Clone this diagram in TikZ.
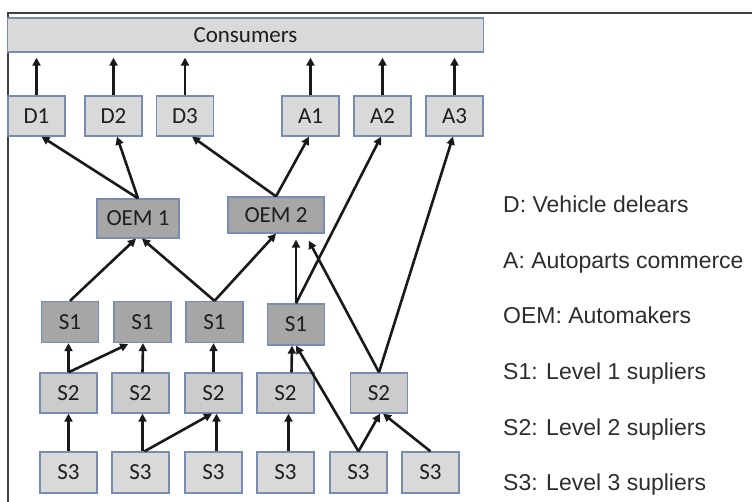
\documentclass[tikz,border=0pt]{standalone}
\usepackage{fontspec}
\usetikzlibrary{arrows.meta}
\newfontfamily\boxfont{Carlito}
\newfontfamily\legendfont{Liberation Sans}
\definecolor{boxedge}{RGB}{120,140,178}
\definecolor{lightfill}{RGB}{217,217,217}
\definecolor{midfill}{RGB}{204,204,204}
\definecolor{darkfill}{RGB}{166,166,166}
\definecolor{inktext}{RGB}{30,30,30}
\definecolor{legendtext}{RGB}{45,45,45}
\tikzset{
  chain box/.style={
    rectangle, draw=boxedge, line width=1.3pt, fill=lightfill,
    text=inktext, minimum width=57pt, minimum height=40pt,
    inner sep=0pt, font=\boxfont\fontsize{23}{27}\selectfont
  },
  maker box/.style={chain box, fill=darkfill},
  tier2 box/.style={chain box, fill=midfill},
  flow arrow/.style={-{Triangle[length=8pt,width=8pt]}, line width=2.6pt, black!90},
  legend entry/.style={anchor=base west, inner sep=0pt, text=legendtext,
    font=\legendfont\fontsize{23}{27}\selectfont}
}

\begin{document}
\begin{tikzpicture}[x=1pt, y=-1pt]
  \useasboundingbox (0,0) rectangle (752,502);
  % frame, only top and left edges show
  \draw[line width=1.6pt, black!75] (752,13) -- (8,13) -- (8,502);

  \node[chain box, minimum width=476pt, minimum height=34pt] (consumers) at (245.5,35) {Consumers};

  % dealers and autoparts shops
  \node[chain box] (D1) at (36.5,116) {D1};
  \node[chain box] (D2) at (113.5,116) {D2};
  \node[chain box] (D3) at (185,116) {D3};
  \node[chain box] (A1) at (310.5,116) {A1};
  \node[chain box] (A2) at (382.5,116) {A2};
  \node[chain box] (A3) at (454.5,116) {A3};

  % automakers
  \node[maker box, minimum width=82pt, minimum height=39pt] (OEM1) at (138,218.5) {OEM 1};
  \node[maker box, minimum width=96pt, minimum height=36pt] (OEM2) at (276,215) {OEM 2};

  % supplier tiers
  \node[maker box, minimum height=41pt] (S1a) at (70,322) {S1};
  \node[maker box, minimum height=41pt] (S1b) at (142.5,322) {S1};
  \node[maker box, minimum height=41pt] (S1c) at (214.5,322) {S1};
  \node[maker box, minimum height=41pt] (S1d) at (296,324.5) {S1};

  \node[tier2 box] (S2a) at (68.5,393) {S2};
  \node[tier2 box] (S2b) at (140.5,393) {S2};
  \node[tier2 box] (S2c) at (213.5,393) {S2};
  \node[tier2 box] (S2d) at (285.5,393) {S2};
  \node[tier2 box] (S2e) at (379,393) {S2};

  \node[chain box, minimum height=41pt] (S3a) at (68.5,472.5) {S3};
  \node[chain box, minimum height=41pt] (S3b) at (140.5,472.5) {S3};
  \node[chain box, minimum height=41pt] (S3c) at (213.5,472.5) {S3};
  \node[chain box, minimum height=41pt] (S3d) at (285.5,472.5) {S3};
  \node[chain box, minimum height=41pt] (S3e) at (358.5,472.5) {S3};
  \node[chain box, minimum height=41pt] (S3f) at (430.5,472.5) {S3};

  % to consumers
  \foreach \n in {D1,D2,D3,A1,A2,A3}
    \draw[flow arrow, shorten >=5pt] (\n.north) -- (\n.north |- consumers.south);

  % automakers to sellers
  \draw[flow arrow] (OEM1.north) -- ([xshift=5pt]D1.south);
  \draw[flow arrow] (OEM1.north) -- ([xshift=3.5pt]D2.south);
  \draw[flow arrow] (OEM2.north) -- ([xshift=7pt]D3.south);
  \draw[flow arrow] (OEM2.north) -- ([xshift=-1.5pt]A1.south);

  % level 1
  \draw[flow arrow] (S1a.north) -- ([xshift=-2pt]OEM1.south);
  \draw[flow arrow] (S1c.north) -- ([xshift=4pt]OEM1.south);
  \draw[flow arrow] (S1c.north) -- (OEM2.south);
  \draw[flow arrow, shorten >=6pt] (S1d.north) -- (S1d.north |- OEM2.south);
  \draw[flow arrow] (S1d.north) -- ([xshift=-1.5pt]A2.south);
  \draw[flow arrow, shorten >=8pt] (S2e.north) -- ([xshift=29pt]OEM2.south);
  \draw[flow arrow] (S2e.north) -- ([xshift=-1.5pt]A3.south);

  % level 2
  \draw[flow arrow] (S2a.north) -- (S2a.north |- S1a.south);
  \draw[flow arrow, shorten >=2pt] (S2a.north) -- ([xshift=-12.5pt]S1b.south);
  \draw[flow arrow] ([xshift=2pt]S2b.north) -- ([xshift=0.5pt]S1b.south);
  \draw[flow arrow] (S2c.north) -- (S2c.north |- S1c.south);
  \draw[flow arrow] ([xshift=6pt]S2d.north) -- ([xshift=-4pt]S1d.south);

  % level 3
  \draw[flow arrow] (S3a.north) -- (S2a.south);
  \draw[flow arrow] ([xshift=2pt]S3b.north) -- ([xshift=2pt]S2b.south);
  \draw[flow arrow] ([xshift=4pt]S3b.north) -- ([xshift=-1.5pt]S2c.south);
  \draw[flow arrow] ([xshift=3pt]S3c.north) -- ([xshift=3pt]S2c.south);
  \draw[flow arrow] ([xshift=3pt]S3d.north) -- ([xshift=3pt]S2d.south);
  \draw[flow arrow] (S3e.north) -- (S1d.south);
  \draw[flow arrow] (S3e.north) -- ([xshift=1pt]S2e.south);
  \draw[flow arrow] (S3f.north) -- ([xshift=4pt]S2e.south);

  % legend
  \node[legend entry] (keyD) at (503,213) {D: Vehicle delears};
  \node[legend entry] (keyA) at (503,269) {A: Autoparts commerce};
  \node[legend entry] (keyOEM) at (503,324) {OEM: Automakers};
  \node[legend entry] (keyS1) at (503,380) {S1: Level 1 supliers};
  \node[legend entry] (keyS2) at (503,435) {S2: Level 2 supliers};
  \node[legend entry] (keyS3) at (503,490) {S3: Level 3 supliers};
\end{tikzpicture}
\end{document}
